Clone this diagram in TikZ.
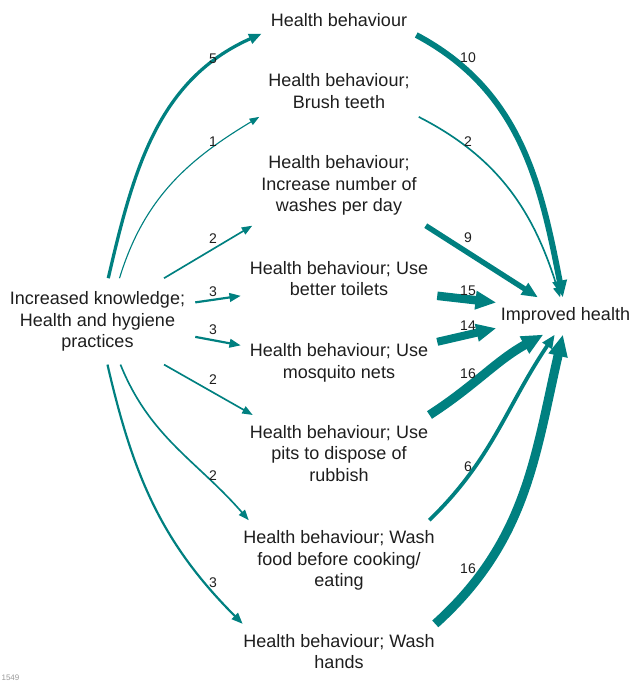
\documentclass[tikz,border=0pt]{standalone}
\usepackage{fontspec}
\setmainfont{Liberation Sans}
\usetikzlibrary{arrows.meta}
\definecolor{linkteal}{RGB}{0,128,128}
\definecolor{ink}{RGB}{30,30,30}

\begin{document}
\begin{tikzpicture}[x=1pt, y=1pt,
habit/.style = {align=center, text=ink, inner xsep=9pt, inner ysep=10pt,
                font=\fontsize{18}{21.6}\selectfont},
FA/.style = {% Flow Arrow, width follows the count
draw=linkteal, line width={0.6pt+0.53pt*#1},
-{Triangle[length=8pt 1.5, width=5.5pt 1.4]}},
WL/.style = {% Weight Label
text=ink, inner sep=0pt, font=\fontsize{14}{16}\selectfont}]
\useasboundingbox (0,0) rectangle (640,684);
% cause and effect
\node[habit, inner xsep=10pt, inner ysep=13pt] (K) at (97.5,362.6)
     {Increased knowledge;\\ Health and hygiene\\ practices};
\node[habit, inner xsep=4.5pt] (H) at (565.5,368) {Improved health};
\begin{scope}[every node/.style={habit}]
\node (B1) at (339,664)   {Health behaviour};
\node (B2) at (339,593)   {Health behaviour;\\ Brush teeth};
\node (B3) at (339,498.5) {Health behaviour;\\ Increase number of\\ washes per day};
\node (B4) at (339,405.5) {Health behaviour; Use\\ better toilets};
\node (B5) at (339,321.3) {Health behaviour; Use\\ mosquito nets};
\node (B6) at (339,230.6) {Health behaviour; Use\\ pits to dispose of\\ rubbish};
\node (B7) at (339,123.6) {Health behaviour; Wash\\ food before cooking/\\ eating};
\node (B8) at (339,32.5)  {Health behaviour; Wash\\ hands};
\end{scope}
% arrows into the behaviours
\draw[FA=5] (K.76) to[out=77, in=204] (B1.190);
\draw[FA=1] (K.63) to[out=73, in=211] (B2.198);
\draw[FA=2] (K.33) -- (B3.south west);
\draw[FA=3] (K.11) -- (B4.190);
\draw[FA=3] (K.-9) -- (B5.170);
\draw[FA=2] (K.-33) -- (B6.156);
\draw[FA=2] (K.-62) to[out=-68, in=131] (B7.156);
\draw[FA=3] (K.-77) to[out=-77, in=135] (B8.164);
% arrows into the outcome
\draw[FA=10] (B1.-11) to[out=-28, in=101] (H.98);
\draw[FA=2] (B2.-18) to[out=-27, in=107] (H.106);
\draw[FA=9] (B3.south east) -- (H.146);
\draw[FA=15] (B4.-10) -- (H.169);
\draw[FA=14] (B5.12) -- (H.190);
\draw[FA=16] (B6.23) to[out=33, in=209] (H.220);
\draw[FA=6] (B7.24) to[out=44, in=236] (H.240);
\draw[FA=16] (B8.16) to[out=42, in=257] (H.262);
% counts
\begin{scope}[every node/.style={WL}]
\node (l1) at (213,625) {5};
\node (l2) at (213,542) {1};
\node (l3) at (213,445) {2};
\node (l4) at (213,392) {3};
\node (l5) at (213,354) {3};
\node (l6) at (213,304) {2};
\node (l7) at (213,208) {2};
\node (l8) at (213,101) {3};
\node (r1) at (468,626) {10};
\node (r2) at (468,542) {2};
\node (r3) at (468,446) {9};
\node (r4) at (468,393) {15};
\node (r5) at (468,358) {14};
\node (r6) at (468,310) {16};
\node (r7) at (468,217) {6};
\node (r8) at (468,115) {16};
\end{scope}
\node[text=black!40, inner sep=0pt, font=\fontsize{8}{9}\selectfont] (tag) at (10.5,6) {1549};
\end{tikzpicture}
\end{document}
